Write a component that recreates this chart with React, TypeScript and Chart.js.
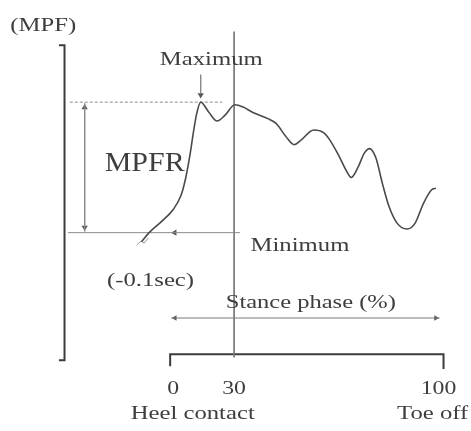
import React, { useEffect, useRef } from "react";
import { Chart, registerables } from "chart.js";

Chart.register(...registerables);

// ---- Data (schematic diagram) ----
// x: position along the stance phase (heel contact = 0, toe off = 100; drawn not to scale as in the source)
// y: MPF relative to the pre-contact minimum (0) and the maximum (100)
const CURVE_X = [
  -11.9, -9.1, -4.4, -0.1, 3.0, 4.8, 6.4, 7.7, 8.9, 10.4, 13.4, 16.6, 19.6, 23.3, 26.4, 30.1,
  35.7, 38.8, 42.5, 45.6, 48.0, 53.0, 56.7, 58.9, 62.2, 65.3, 67.1, 69.6, 72.1, 74.0, 76.4,
  78.9, 81.4, 84.4, 88.1, 91.2, 94.3, 97.4, 99.0,
];
const CURVE_Y = [
  -7.0, -0.2, 8.5, 17.3, 28.6, 42.3, 59.9, 77.4, 91.2, 100, 92.5, 85.5, 90.0, 98.0, 96.2, 92.0,
  87.4, 83.7, 73.7, 67.4, 70.5, 78.7, 76.7, 71.5, 59.9, 47.4, 42.3, 49.8, 61.1, 64.4, 57.4,
  37.4, 19.8, 7.3, 2.8, 7.3, 22.3, 32.9, 34.1,
];
const MPF_MIN = 0;
const MPF_MAX = 100;
const MAX_AT = 10.4;
const TICK_VALUES = [0, 23.0, 100];
const TICK_LABELS = ["0", "30", "100"];
const PHASE_LABELS = ["Heel contact", "Toe off"];

// ---- Layout (data units) ----
const X_MIN = -63.7;
const X_MAX = 110.74;
const Y_MIN = -148.9;
const Y_MAX = 175.2;

const INK = "#3e3e3e";
const GUIDE = "#8a8a8a";
const FONT = "'Liberation Serif', 'Times New Roman', serif";

type Lbl = { text: string; x: number; y: number; size: number; stretch: number };

const LABELS: Lbl[] = [
  { text: "(MPF)", x: -48.9, y: 158.6, size: 19, stretch: 1.3 },
  { text: "Maximum", x: 14.4, y: 132.3, size: 19, stretch: 1.3 },
  { text: "MPFR", x: -10.7, y: 52.6, size: 28, stretch: 1.07 },
  { text: "Minimum", x: 47.8, y: -10.5, size: 19, stretch: 1.3 },
  { text: "(-0.1sec)", x: -8.5, y: -36.8, size: 19, stretch: 1.3 },
  { text: "Stance phase (%)", x: 51.9, y: -54.1, size: 19, stretch: 1.29 },
  ...TICK_VALUES.map((v, i) => ({ text: TICK_LABELS[i], x: v, y: -119.5, size: 19, stretch: 1.25 })),
  { text: PHASE_LABELS[0], x: 7.4, y: -139.1, size: 19, stretch: 1.3 },
  { text: PHASE_LABELS[1], x: 97.8, y: -139.1, size: 19, stretch: 1.3 },
];

const seg = (pts: number[][], color: string, width: number, dash: number[] = []) => ({
  type: "line" as const,
  data: pts.map(([x, y]) => ({ x, y })),
  borderColor: color,
  borderWidth: width,
  borderDash: dash,
  pointRadius: 0,
  tension: 0,
  fill: false,
});

const heads = (pts: number[][], rot: number[], color: string, r = 3.6) => ({
  type: "scatter" as const,
  data: pts.map(([x, y]) => ({ x, y })),
  pointStyle: "triangle",
  pointRadius: r,
  rotation: rot,
  backgroundColor: color,
  borderColor: color,
  borderWidth: 0,
  showLine: false,
});

const labelPlugin = {
  id: "labels",
  afterDatasetsDraw(chart: any) {
    const { ctx, scales } = chart;
    ctx.save();
    ctx.fillStyle = INK;
    ctx.textAlign = "center";
    ctx.textBaseline = "middle";
    for (const l of LABELS) {
      const px = scales.x.getPixelForValue(l.x);
      const py = scales.y.getPixelForValue(l.y);
      ctx.save();
      ctx.translate(px, py);
      ctx.scale(l.stretch, 1);
      ctx.font = `${l.size}px ${FONT}`;
      ctx.fillText(l.text, 0, 0);
      ctx.restore();
    }
    ctx.restore();
  },
};

export default function App() {
  const ref = useRef<HTMLCanvasElement | null>(null);

  useEffect(() => {
    document.body.style.margin = "0";
    const canvas = ref.current;
    if (!canvas) return;
    const startX = CURVE_X[0];
    const chart = new Chart(canvas, {
      type: "line",
      data: {
        datasets: [
          // MPF curve
          {
            type: "line",
            data: CURVE_X.map((x, i) => ({ x, y: CURVE_Y[i] })),
            borderColor: "#4a4a4a",
            borderWidth: 1.6,
            pointRadius: 0,
            cubicInterpolationMode: "monotone",
            fill: false,
          } as any,
          // maximum guide (dashed) and minimum guide
          seg([[-38.9, MPF_MAX], [18.5, MPF_MAX]], GUIDE, 1, [3, 2]),
          seg([[-39.6, MPF_MIN], [25.2, MPF_MIN]], GUIDE, 1),
          // MPFR double arrow
          seg([[-33.3, MPF_MAX - 1], [-33.3, MPF_MIN + 1]], GUIDE, 1),
          heads([[-33.3, MPF_MAX - 4], [-33.3, MPF_MIN + 4]], [0, 180], "#555"),
          // Maximum arrow
          seg([[MAX_AT, 121], [MAX_AT, 107]], GUIDE, 1),
          heads([[MAX_AT, 105.5]], [180], "#555"),
          // Minimum arrow head
          heads([[0.6, MPF_MIN]], [270], "#555"),
          // small break mark at curve start
          seg([[startX - 1.8, -9.5], [startX - 0.2, -6.5], [startX + 1.0, -8.0], [startX + 2.6, -4.0]], "#9a9a9a", 1),
          // 30% line
          seg([[TICK_VALUES[1], 154], [TICK_VALUES[1], -95.5]], "#7a7a7a", 1),
          // left bracket (MPF axis)
          seg([[-43, 143.6], [-40.9, 143.6], [-40.9, -97.7], [-43, -97.7]], "#3c3c3c", 2),
          // stance phase axis
          seg([[-1.1, -102.3], [-1.1, -93.2], [101.9, -93.2], [101.9, -104.5]], "#3c3c3c", 2),
          // stance phase double arrow
          seg([[-0.7, -65.4], [100.4, -65.4]], "#7a7a7a", 1),
          heads([[0.7, -65.4], [99.0, -65.4]], [270, 90], "#555", 3.2),
        ] as any,
      },
      options: {
        responsive: false,
        maintainAspectRatio: false,
        animation: false,
        devicePixelRatio: 1,
        layout: { padding: 0 },
        plugins: { legend: { display: false }, tooltip: { enabled: false } },
        events: [],
        scales: {
          x: { type: "linear", min: X_MIN, max: X_MAX, display: false },
          y: { type: "linear", min: Y_MIN, max: Y_MAX, display: false },
        },
      },
      plugins: [labelPlugin],
    });
    return () => chart.destroy();
  }, []);

  return (
    <div style={{ width: 471, height: 431, background: "#fff" }}>
      <canvas ref={ref} width={471} height={431} />
    </div>
  );
}
